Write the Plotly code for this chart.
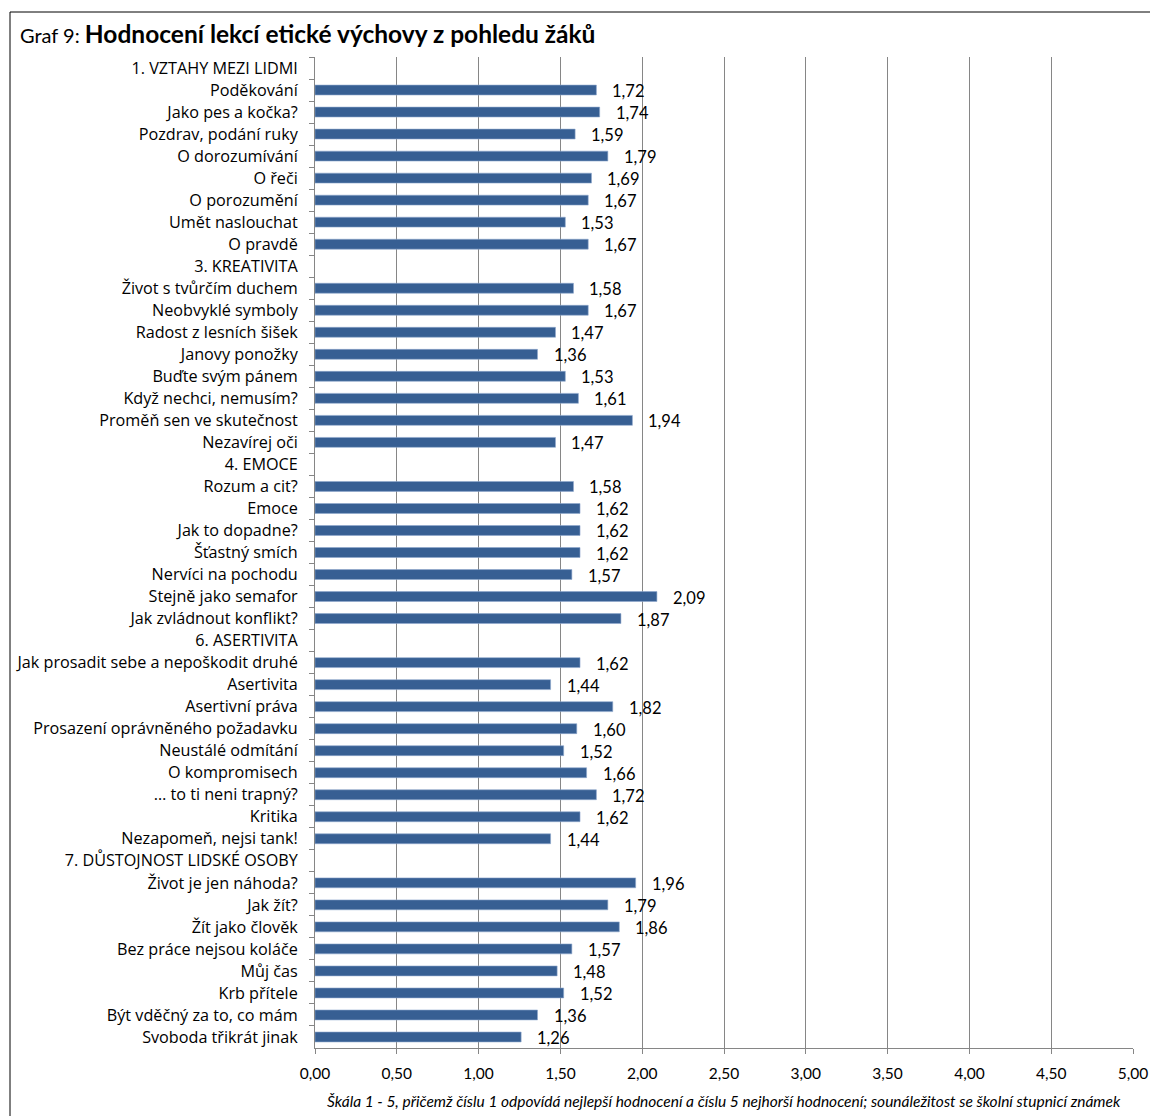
import plotly.graph_objects as go

categories = [
    "1. VZTAHY MEZI LIDMI", "Poděkování", "Jako pes a kočka?", "Pozdrav, podání ruky",
    "O dorozumívání", "O řeči", "O porozumění", "Umět naslouchat", "O pravdě",
    "3. KREATIVITA", "Život s tvůrčím duchem", "Neobvyklé symboly", "Radost z lesních šišek",
    "Janovy ponožky", "Buďte svým pánem", "Když nechci, nemusím?", "Proměň sen ve skutečnost",
    "Nezavírej oči",
    "4. EMOCE", "Rozum a cit?", "Emoce", "Jak to dopadne?", "Šťastný smích",
    "Nervíci na pochodu", "Stejně jako semafor", "Jak zvládnout konflikt?",
    "6. ASERTIVITA", "Jak prosadit sebe a nepoškodit druhé", "Asertivita", "Asertivní práva",
    "Prosazení oprávněného požadavku", "Neustálé odmítání", "O kompromisech",
    "… to ti neni trapný?", "Kritika", "Nezapomeň, nejsi tank!",
    "7. DŮSTOJNOST LIDSKÉ OSOBY", "Život je jen náhoda?", "Jak žít?", "Žít jako člověk",
    "Bez práce nejsou koláče", "Můj čas", "Krb přítele", "Být vděčný za to, co mám",
    "Svoboda třikrát jinak",
]
values = [
    None, 1.72, 1.74, 1.59, 1.79, 1.69, 1.67, 1.53, 1.67,
    None, 1.58, 1.67, 1.47, 1.36, 1.53, 1.61, 1.94, 1.47,
    None, 1.58, 1.62, 1.62, 1.62, 1.57, 2.09, 1.87,
    None, 1.62, 1.44, 1.82, 1.60, 1.52, 1.66, 1.72, 1.62, 1.44,
    None, 1.96, 1.79, 1.86, 1.57, 1.48, 1.52, 1.36, 1.26,
]
x_ticks = [0, 0.5, 1, 1.5, 2, 2.5, 3, 3.5, 4, 4.5, 5]

NUMFONT = "Lato"
CATFONT = "Open Sans"
OFF = 8  # page body margin
W, H = 1158 - OFF, 1116 - OFF
L, R, T, B = 315, 1133, 57, 1048  # target screen pixels
pw, ph = R - L, B - T

def px(xp):
    return (xp - L) / pw

def py(yp):
    return (B - yp) / ph

fig = go.Figure()
fig.add_trace(go.Bar(
    x=values, y=categories, orientation="h",
    marker=dict(color="#375f93", line=dict(color="#8fa8cc", width=0.6)),
    hoverinfo="x+y",
))

annotations = []
for c, v in zip(categories, values):
    if v is None:
        continue
    annotations.append(dict(
        x=v, y=c, xref="x", yref="y", text=f"{v:.2f}".replace(".", ","),
        showarrow=False, xanchor="left", yanchor="middle", xshift=14, yshift=-1,
        font=dict(family=NUMFONT, size=16.5, color="black"),
    ))

annotations.append(dict(
    x=px(1123), y=py(1101), xref="paper", yref="paper",
    text="<i>Škála 1 - 5, přičemž číslu 1 odpovídá nejlepší hodnocení a číslu 5 nejhorší hodnocení; sounáležitost se školní stupnicí známek</i>",
    showarrow=False, xanchor="right", yanchor="middle",
    font=dict(family=NUMFONT, size=15.5, color="black"),
))
annotations.append(dict(
    x=px(18), y=py(34), xref="paper", yref="paper",
    text="<span style='font-size:20px'>Graf 9: </span><b>Hodnocení lekcí etické výchovy z pohledu žáků</b>",
    showarrow=False, xanchor="left", yanchor="middle",
    font=dict(family=NUMFONT, size=24.5, color="black"),
))

fig.update_layout(
    width=W, height=H,
    margin=dict(l=L - OFF, r=W - (R - OFF), t=T - OFF, b=H - (B - OFF), autoexpand=False),
    paper_bgcolor="white", plot_bgcolor="white",
    separators=", ",
    bargap=0.55,
    showlegend=False,
    font=dict(family=NUMFONT, size=15, color="black"),
    annotations=annotations,
    shapes=[dict(
        type="rect", xref="paper", yref="paper",
        x0=px(10), x1=px(1175), y0=py(1130), y1=py(12),
        line=dict(color="black", width=1), fillcolor="rgba(0,0,0,0)", layer="above",
    )],
)
fig.update_xaxes(
    range=[0, 5], tickvals=x_ticks, tickformat=".2f",
    showgrid=True, gridcolor="#868686", gridwidth=1,
    showline=True, linecolor="#868686", linewidth=1,
    ticks="outside", ticklen=5, tickcolor="#868686",
    zeroline=False, tickfont=dict(family=NUMFONT, size=15.5),
    ticklabelstandoff=6, automargin=False,
)
fig.update_yaxes(
    autorange="reversed", type="category",
    showline=True, linecolor="#868686", linewidth=1,
    ticks="outside", ticklen=5, tickcolor="#868686", tickson="boundaries",
    showgrid=False, tickfont=dict(family=CATFONT, size=16.2),
    ticklabelstandoff=13, automargin=False,
)

fig.write_html("out.html")
